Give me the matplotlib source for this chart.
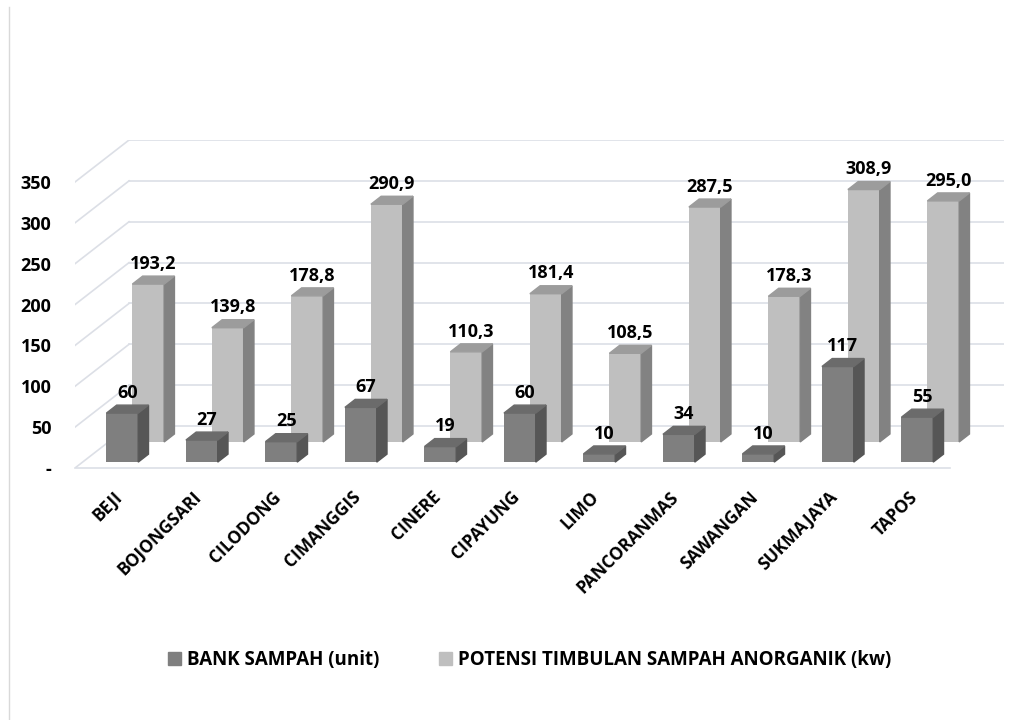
import matplotlib
matplotlib.use("Agg")
import matplotlib.pyplot as plt
from matplotlib.patches import Polygon, Patch
from matplotlib.lines import Line2D

# data
kecamatan = ["BEJI", "BOJONGSARI", "CILODONG", "CIMANGGIS", "CINERE", "CIPAYUNG",
             "LIMO", "PANCORANMAS", "SAWANGAN", "SUKMAJAYA", "TAPOS"]
bank_sampah = [60, 27, 25, 67, 19, 60, 10, 34, 10, 117, 55]
potensi = [193.2, 139.8, 178.8, 290.9, 110.3, 181.4, 108.5, 287.5, 178.3, 308.9, 295.0]
series_names = ["BANK SAMPAH (unit)", "POTENSI TIMBULAN SAMPAH ANORGANIK (kw)"]
y_ticks = [0, 50, 100, 150, 200, 250, 300, 350]
y_ticklabels = ["-", "50", "100", "150", "200", "250", "300", "350"]

# oblique "3D" offset for full depth, in data units
DX, DY = 0.68, 51.4
BAR_W = 0.4
FONT = "Open Sans"

plt.rcParams["font.family"] = [FONT, "DejaVu Sans"]
plt.rcParams["font.weight"] = "bold"

fig = plt.figure(figsize=(10.09, 7.2), dpi=100)
ax = fig.add_axes([75 / 1009, 1 - 468 / 720, 928.6 / 1009, 328 / 720])
n = len(kecamatan)
ax.set_xlim(0, n + DX)
ax.set_ylim(0, 350 + DY)
for s in ax.spines.values():
    s.set_visible(False)

grid_c = "#dcdfe6"
for v in y_ticks:
    # back wall + side wall gridlines
    ax.plot([DX, n + DX], [v + DY, v + DY], color=grid_c, lw=1.2, zorder=0)
    ax.plot([0, DX], [v, v + DY], color=grid_c, lw=1.2, zorder=0)
ax.plot([0, n], [0, 0], color=grid_c, lw=1.2, zorder=0, clip_on=False)


def draw_row(values, d0, d1, face, side, top, fmt):
    for i, v in enumerate(values):
        xl = i + 0.5 - BAR_W / 2
        xr = xl + BAR_W
        ax.bar(xl + d0 * DX, v, width=BAR_W, bottom=d0 * DY, align="edge",
               color=face, zorder=2)
        ax.add_patch(Polygon([(xr + d0 * DX, d0 * DY), (xr + d1 * DX, d1 * DY),
                              (xr + d1 * DX, v + d1 * DY), (xr + d0 * DX, v + d0 * DY)],
                             closed=True, color=side, zorder=2))
        ax.add_patch(Polygon([(xl + d0 * DX, v + d0 * DY), (xr + d0 * DX, v + d0 * DY),
                              (xr + d1 * DX, v + d1 * DY), (xl + d1 * DX, v + d1 * DY)],
                             closed=True, color=top, zorder=2))
        ax.text(i + 0.5 + (d0 + d1) / 2 * DX, v + d1 * DY + 4, fmt(v),
                ha="center", va="bottom", fontsize=13, fontweight="bold",
                color="#000000", zorder=3)


# back row first, then front row on top
draw_row(potensi, 0.62, 0.81, "#bfbfbf", "#828282", "#9c9c9c",
         lambda v: f"{v:.1f}".replace(".", ","))
draw_row(bank_sampah, 0.14, 0.33, "#7f7f7f", "#565656", "#6b6b6b",
         lambda v: f"{v:d}")

ax.set_yticks(y_ticks)
ax.set_yticklabels(y_ticklabels, fontsize=13, fontweight="bold")
ax.tick_params(axis="y", length=0, pad=17)
ax.set_xticks([i + 0.56 for i in range(n)])
ax.set_xticklabels(kecamatan, rotation=45, ha="right", rotation_mode="anchor",
                   va="center", fontsize=12.5, fontweight="bold")
ax.tick_params(axis="x", length=0, pad=19)

handles = [Patch(color="#7f7f7f"), Patch(color="#bfbfbf")]
fig.legend(handles, series_names, loc="center", bbox_to_anchor=(0.525, 0.083),
           ncol=2, frameon=False, prop={"weight": "bold", "size": 13.5},
           handlelength=0.7, handleheight=0.7, handletextpad=0.3, columnspacing=3.2)

# chart area left border
fig.add_artist(Line2D([9 / 1009, 9 / 1009], [0, 1 - 7 / 720], color="#d9d9d9", lw=1))

fig.savefig("out.png", dpi=100)
